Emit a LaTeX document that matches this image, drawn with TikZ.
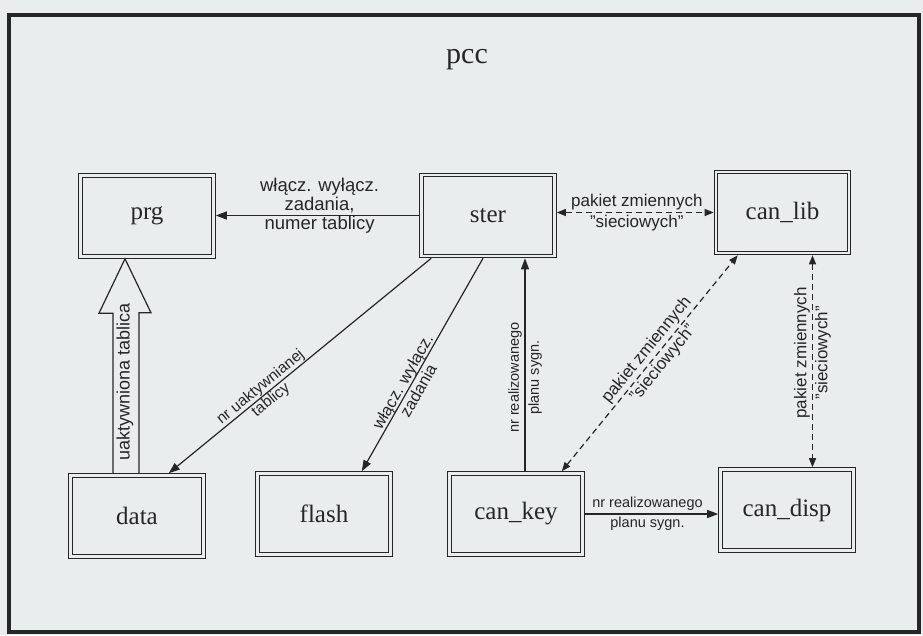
\documentclass[tikz,border=0pt]{standalone}
\usepackage{fontspec}
\setmainfont{Liberation Serif}
\setsansfont{Liberation Sans}
\usetikzlibrary{arrows.meta}
\definecolor{bg}{RGB}{233,237,238}
\definecolor{ink}{RGB}{38,38,38}
\begin{document}
\begin{tikzpicture}[x=1pt,y=-1pt,
  box/.style={draw=ink, double=bg, double distance=2.4pt, line width=1.1pt,
    minimum width=133pt, minimum height=81pt, inner sep=0pt, outer sep=2.3pt,
    text=ink, font=\fontsize{25}{28}\selectfont},
  conn/.style={draw=ink, line width=1.2pt, -{Triangle[length=11pt,width=8pt]}},
  dconn/.style={draw=ink, line width=1.2pt, dash pattern=on 6pt off 4pt,
    {Triangle[length=9pt,width=7pt]}-{Triangle[length=9pt,width=7pt]}},
  lblA/.style={text=ink, align=center, inner sep=1pt, font=\sffamily\fontsize{18.5}{19}\selectfont},
  lblB/.style={text=ink, align=center, inner sep=1pt, font=\sffamily\fontsize{15.5}{16.5}\selectfont},
  lblC/.style={text=ink, align=center, inner sep=1pt, font=\sffamily\fontsize{16.5}{18}\selectfont},
  lblP/.style={text=ink, align=center, inner sep=1pt, font=\sffamily\fontsize{17}{21}\selectfont},
  lblN/.style={text=ink, align=center, inner sep=1pt, font=\sffamily\fontsize{14.5}{20}\selectfont},
  lblU/.style={text=ink, inner sep=1pt, font=\sffamily\fontsize{18}{20}\selectfont},
  blk/.style={draw=ink, line width=1.2pt, line join=miter}
]
\fill[bg] (0,0) rectangle (923,635);
\useasboundingbox (0,0) rectangle (923,635);
% outer frame
\draw[ink, line width=3.5pt] (9,15) rectangle (919,632);
% title
\node[text=ink, anchor=base, font=\fontsize{30}{32}\selectfont] (title) at (467,63) {pcc};

% boxes
\node[box] (prg)     at (147,216)   {prg};
\node[box] (ster)    at (488,215.5) {ster};
\node[box] (canlib)  at (782.5,212.5) {can\_lib};
\node[box] (data)    at (137,516)   {data};
\node[box] (flash)   at (324,514)   {flash};
\node[box] (cankey)  at (516,514)   {can\_key};
\node[box] (candisp) at (787,510)   {can\_disp};

% ster -> prg
\draw[conn] (ster.west) -- (ster.west -| prg.east)
  node[lblA, pos=0.49, yshift=10pt] {włącz. wyłącz.\\zadania,\\numer tablicy};

% ster <-> can_lib
\draw[dconn] (canlib.west -| ster.east) -- (canlib.west)
  node[lblP, pos=0.51] {pakiet zmiennych\\"sieciowych"};

% ster -> data
\draw[conn] ([xshift=12pt]ster.south west) -- ([xshift=-37pt]data.north east)
  node[lblB, pos=0.63, sloped] {nr uaktywnianej\\tablicy};

% ster -> flash
\draw[conn] ([xshift=-5pt]ster.south) -- ([xshift=-31pt]flash.north east)
  node[lblC, pos=0.6, sloped] {włącz. wyłącz.\\zadania};

% can_key -> ster
\coordinate (kt) at ([xshift=9pt]cankey.north);
\draw[conn] (kt) -- (kt |- ster.south)
  node[lblN, pos=0.44, sloped] {nr realizowanego\\planu sygn.};

% can_key <-> can_lib
\draw[dconn] ([xshift=-23pt]cankey.north east) -- ([xshift=24pt]canlib.south west)
  node[lblP, pos=0.53, sloped] {pakiet zmiennych\\"sieciowych"};

% can_lib <-> can_disp
\coordinate (lt) at ([xshift=30pt]canlib.south);
\draw[dconn] (lt) -- (lt |- candisp.north)
  node[lblP, pos=0.46, rotate=90] {pakiet zmiennych\\"sieciowych"};

% can_key -> can_disp
\draw[conn] (cankey.east) -- (cankey.east -| candisp.west)
  node[lblN, pos=0.47] {nr realizowanego\\planu sygn.};

% block arrow data -> prg
\coordinate (bb) at ([xshift=-12pt]data.north);
\coordinate (bt) at (bb |- prg.south);
\draw[blk] ([xshift=-12pt]bb) -- ++(0,-160) -- ++(-14,0) -- (bt) -- ++(26,54) -- ++(-12,0) -- ([xshift=14pt]bb);
\path (bb) -- (bt) node[lblU, pos=0.425, sloped] {uaktywniona tablica};
\end{tikzpicture}
\end{document}
